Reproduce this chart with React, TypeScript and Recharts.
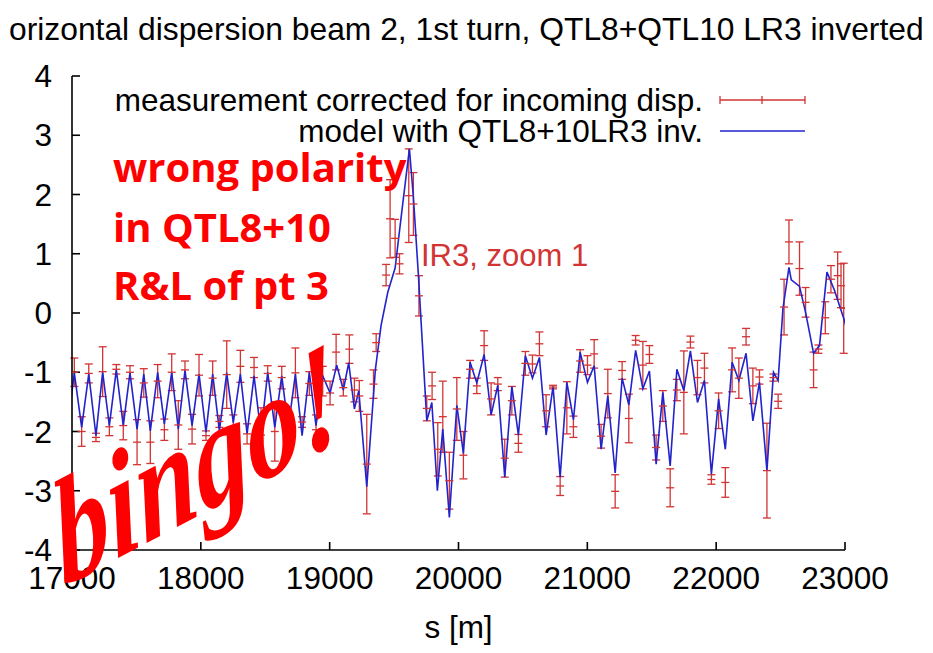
import React from 'react';
import { ComposedChart, Line, Scatter, ErrorBar, XAxis, YAxis } from 'recharts';

// ---------- data ----------
const xTicks = [17000, 18000, 19000, 20000, 21000, 22000, 23000];
const yTicks = [-4, -3, -2, -1, 0, 1, 2, 3, 4];

const modelS = [
  16964, 17018, 17075, 17130, 17186, 17238, 17290, 17344, 17398, 17450,
  17505, 17557, 17608, 17665, 17717, 17774, 17825, 17877, 17932, 17986,
  18040, 18092, 18144, 18201, 18252, 18307, 18359, 18413, 18467, 18519,
  18574, 18628, 18679, 18734, 18786, 18842, 18894, 18946,
  19003, 19055, 19106, 19148, 19192, 19226, 19288, 19355, 19399, 19451,
  19508, 19562, 19619, 19650, 19689, 19754, 19793, 19836, 19878, 19929,
  19987,
  20038, 20090, 20142, 20199, 20253, 20305, 20359, 20414, 20465, 20519,
  20574, 20628, 20680, 20734, 20789, 20841, 20892, 20944, 21001, 21053,
  21107, 21159, 21216, 21270, 21322, 21375, 21431, 21482, 21534, 21586,
  21643, 21695, 21749, 21800, 21855, 21909, 21963, 22019, 22071, 22124,
  22176, 22232, 22285, 22336, 22394, 22445, 22481,
  22518, 22565, 22583, 22647, 22694, 22756, 22802, 22860, 22919, 22996, 23040,
];
const modelD = [
  -1.95, -1.01, -1.93, -1.03, -2.07, -1.0, -1.9, -0.96, -1.9, -1.01,
  -1.96, -1.03, -1.99, -1.0, -1.87, -1.0, -1.96, -0.97, -1.9, -1.03,
  -2.01, -1.03, -1.99, -1.01, -1.85, -1.03, -2.04, -1.06, -2.04, -1.0,
  -1.93, -1.06, -1.93, -1.03, -2.07, -1.0, -1.9, -1.06,
  -1.35, -0.88, -1.3, -0.84, -1.62, -1.31, -2.93, -0.95, -0.21, 0.35,
  0.76, 1.75, 2.77, 1.95, 0.63, -1.82, -1.51, -3.0, -1.96, -3.45,
  -1.56,
  -2.37, -0.83, -1.18, -0.7, -1.72, -1.22, -2.77, -1.24, -2.06, -0.72,
  -1.1, -0.75, -2.06, -1.24, -2.77, -1.17, -1.8, -0.66, -1.17, -0.89,
  -2.3, -1.4, -2.7, -1.1, -1.55, -0.63, -1.28, -0.98, -2.55, -1.34,
  -2.58, -0.95, -1.31, -0.64, -1.51, -1.14, -2.72, -1.45, -2.3, -0.83,
  -1.14, -0.68, -1.82, -1.17, -2.66, -1.0, -1.14,
  0.07, 0.77, 0.56, 0.45, 0.01, -0.68, -0.55, 0.69, 0.38, -0.13, -0.5,
];

const measS = [
  17018, 17075, 17130, 17186, 17238, 17290, 17344, 17398, 17450, 17505,
  17557, 17608, 17665, 17717, 17774, 17825, 17877, 17932, 17986, 18040,
  18092, 18144, 18201, 18252, 18307, 18359, 18413, 18467, 18519, 18574,
  18628, 18679, 18734, 18786, 18842, 18894, 18946, 19003, 19050, 19106,
  19153, 19192, 19230, 19288, 19340, 19361, 19438, 19469, 19508, 19542,
  19614, 19650, 19693, 19754, 19795, 19839, 19878, 19929, 19987, 20038,
  20090, 20142, 20199, 20253, 20305, 20359, 20414, 20465, 20519, 20574,
  20628, 20680, 20734, 20789, 20841, 20892, 20944, 21001, 21053, 21107,
  21159, 21216, 21270, 21322, 21375, 21431, 21482, 21534, 21586, 21643,
  21695, 21749, 21800, 21855, 21909, 21963, 22019, 22071, 22124, 22176,
  22232, 22285, 22336, 22394, 22445, 22481, 22527, 22565, 22647, 22694,
  22756, 22794, 22847, 22891, 22943, 22969, 22990,
];
const measD = [
  -1.0, -2.0, -1.02, -2.1, -0.99, -1.92, -0.95, -1.9, -1.0, -2.18,
  -1.18, -2.18, -1.15, -1.97, -1.0, -1.89, -0.96, -1.96, -1.05, -2.07,
  -1.1, -1.83, -1.04, -2.03, -0.9, -2.04, -0.92, -1.83, -1.02, -2.0,
  -1.09, -1.93, -1.01, -1.84, -1.19, -1.97, -1.15, -1.35, -0.66, -1.26,
  -0.61, -1.3, -1.4, -2.55, -1.2, -0.5, 0.64, 1.59, 1.26, 0.83,
  1.98, 1.84, 0.29, -1.61, -1.23, -2.3, -1.75, -2.83, -1.62, -2.4,
  -0.95, -1.23, -0.55, -1.45, -1.2, -2.45, -1.48, -2.2, -0.85, -0.86,
  -0.52, -1.65, -1.25, -2.92, -1.6, -1.92, -0.81, -0.88, -0.69, -2.08,
  -1.36, -3.01, -0.97, -1.78, -0.46, -0.88, -0.7, -2.27, -1.57, -2.95,
  -1.3, -1.34, -0.49, -1.09, -0.93, -2.81, -1.65, -2.86, -0.96, -1.1,
  -0.4, -1.23, -1.08, -2.66, -1.09, -1.49, 0.1, 1.2, 0.75, 0.18,
  -0.96, -0.61, -0.08, 0.57, 0.63, 0.46, 0.08,
];
const measErr = [
  0.24, 0.25, 0.16, 0.07, 0.42, 0.15, 0.08, 0.24, 0.11, 0.38,
  0.24, 0.36, 0.28, 0.18, 0.31, 0.41, 0.15, 0.25, 0.35, 0.08,
  0.29, 0.1, 0.57, 0.31, 0.27, 0.17, 0.17, 0.23, 0.13, 0.5,
  0.19, 0.17, 0.42, 0.09, 0.2, 0.25, 0.25, 0.2, 0.3, 0.14,
  0.24, 0.2, 0.26, 0.84, 0.24, 0.15, 0.18, 0.66, 0.32, 0.17,
  0.79, 0.53, 0.34, 0.21, 0.23, 0.45, 0.6, 0.48, 0.53, 0.4,
  0.15, 0.13, 0.25, 0.27, 0.11, 0.32, 0.24, 0.15, 0.2, 0.15,
  0.2, 0.27, 0.03, 0.16, 0.44, 0.18, 0.19, 0.16, 0.24, 0.2,
  0.41, 0.28, 0.15, 0.41, 0.08, 0.4, 0.15, 0.21, 0.26, 0.32,
  0.18, 0.7, 0.1, 0.29, 0.25, 0.08, 0.3, 0.25, 0.37, 0.34,
  0.14, 0.3, 0.12, 0.8, 0.06, 0.12, 0.47, 0.37, 0.45, 0.25,
  0.3, 0.07, 0.27, 0.23, 0.4, 0.37, 0.76,
];

const titleText = 'orizontal dispersion beam 2, 1st turn, QTL8+QTL10 LR3 inverted';
const legendMeas = 'measurement corrected for incoming disp.';
const legendModel = 'model with QTL8+10LR3 inv.';
const xLabel = 's [m]';
const noteLines = ['wrong polarity', 'in QTL8+10', 'R&L of pt 3'];
const irLabel = 'IR3, zoom 1';
const bingoText = 'bingo!';

// ---------- build ----------
const model = modelS.map((s, i) => ({ s, v: modelD[i] }));
const meas = measS.map((s, i) => ({ s, v: measD[i], err: measErr[i] }));

const FONT = "'Liberation Sans', Arial, sans-serif";
const RED = '#d23434';
const BLUE = '#2323cc';
const FS = 31.5;

const noTick = () => <g />;

const CenterMark = (props: any) => {
  const { cx, cy } = props;
  if (cx == null || cy == null) return <g />;
  return <line x1={cx - 4} x2={cx + 4} y1={cy} y2={cy} stroke={RED} strokeWidth={1.3} />;
};

export default function App() {
  const tickStyle = { fill: '#000', fontSize: FS, fontFamily: FONT };
  return (
    <div style={{ position: 'absolute', left: 0, top: 0, width: 933, height: 653, background: '#fff' }}>
      <ComposedChart width={933} height={653} margin={{ top: 76, right: 88, bottom: 73, left: 0 }}>
        <XAxis
          xAxisId="b"
          type="number"
          dataKey="s"
          domain={[17000, 23000]}
          ticks={xTicks}
          interval={0}
          allowDataOverflow
          orientation="bottom"
          height={30}
          tickSize={-8}
          tickMargin={25}
          stroke="#000"
          strokeWidth={1.6}
          tick={tickStyle}
        />
        <XAxis
          xAxisId="t"
          type="number"
          dataKey="s"
          domain={[17000, 23000]}
          ticks={xTicks}
          interval={0}
          allowDataOverflow
          orientation="top"
          height={0}
          tickSize={-8}
          stroke="#000"
          strokeWidth={1.6}
          tick={noTick}
        />
        <YAxis
          yAxisId="l"
          type="number"
          domain={[-4, 4]}
          ticks={yTicks}
          interval={0}
          allowDataOverflow
          width={72}
          tickSize={-8}
          tickMargin={28}
          stroke="#000"
          strokeWidth={1.6}
          tick={tickStyle}
        />
        <YAxis
          yAxisId="r"
          type="number"
          orientation="right"
          domain={[-4, 4]}
          ticks={yTicks}
          interval={0}
          allowDataOverflow
          width={0}
          tickSize={-8}
          stroke="#000"
          strokeWidth={1.6}
          tick={noTick}
        />
        <Scatter
          data={meas}
          xAxisId="b"
          yAxisId="l"
          dataKey="v"
          shape={CenterMark}
          isAnimationActive={false}
        >
          <ErrorBar dataKey="err" direction="y" width={4} stroke={RED} strokeWidth={1.3} isAnimationActive={false} />
        </Scatter>
        <Line
          data={model}
          xAxisId="b"
          yAxisId="l"
          dataKey="v"
          type="linear"
          stroke={BLUE}
          strokeWidth={1.6}
          dot={false}
          activeDot={false}
          isAnimationActive={false}
        />
      </ComposedChart>

      <svg
        width={933}
        height={653}
        style={{ position: 'absolute', left: 0, top: 0, pointerEvents: 'none' }}
      >
        <text x={9} y={40} fontSize={31.8} fontFamily={FONT} fill="#000">{titleText}</text>

        <text x={703} y={111} fontSize={FS} fontFamily={FONT} fill="#000" textAnchor="end">{legendMeas}</text>
        <line x1={720} x2={805} y1={100} y2={100} stroke={RED} strokeWidth={1.3} />
        <line x1={720} x2={720} y1={96} y2={104} stroke={RED} strokeWidth={1.3} />
        <line x1={805} x2={805} y1={96} y2={104} stroke={RED} strokeWidth={1.3} />
        <line x1={762} x2={762} y1={96} y2={104} stroke={RED} strokeWidth={1.3} />

        <text x={703} y={142} fontSize={FS} fontFamily={FONT} fill="#000" textAnchor="end">{legendModel}</text>
        <line x1={720} x2={805} y1={131} y2={131} stroke={BLUE} strokeWidth={1.6} />

        <text x={458.5} y={638} fontSize={FS} fontFamily={FONT} fill="#000" textAnchor="middle">{xLabel}</text>

        <text x={421} y={266} fontSize={31} fontFamily={FONT} fill={RED}>{irLabel}</text>

        {noteLines.map((t, i) => (
          <text
            key={t}
            x={113}
            y={[182, 242, 300][i]}
            fontSize={40}
            fontWeight={700}
            fontFamily="'Open Sans', 'Noto Sans', sans-serif"
            fill="#ff0000"
          >
            {t}
          </text>
        ))}

        <g transform="rotate(-28 205 512)">
          <g transform="translate(205 512) skewX(-18)">
            <text
              x={0}
              y={0}
              fill="#ff0000"
              textAnchor="middle"
              textLength={320}
              lengthAdjust="spacingAndGlyphs"
              style={{ fontFamily: 'Liberation Serif', fontStyle: 'italic', fontWeight: 700, fontSize: 140 }}
            >
              {bingoText}
            </text>
          </g>
        </g>
      </svg>
    </div>
  );
}
